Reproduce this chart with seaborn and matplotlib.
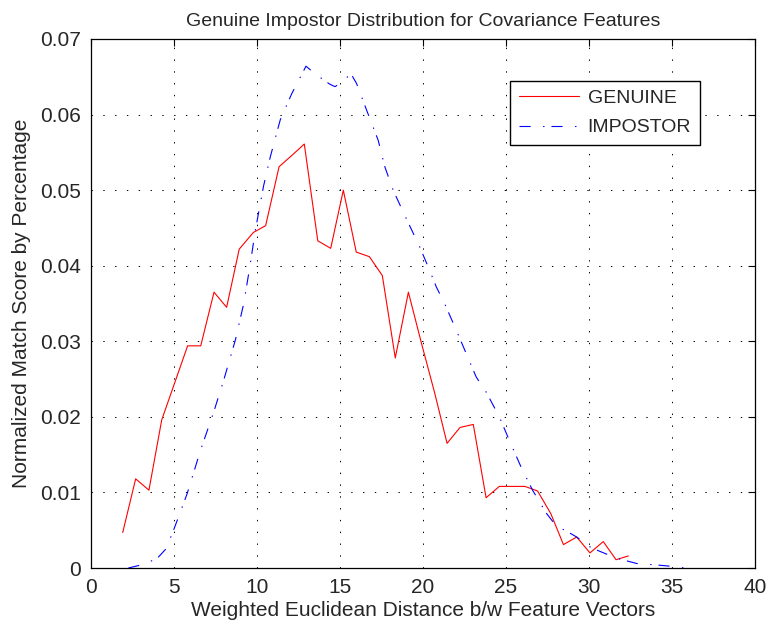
import matplotlib
matplotlib.use('Agg')
import matplotlib.pyplot as plt
import seaborn as sns

# Genuine distribution
genuine_x = [1.91, 2.69, 3.49, 4.26, 5.04, 5.82, 6.61, 7.41, 8.17, 8.93,
             9.78, 10.52, 11.33, 12.10, 12.85, 13.66, 14.44, 15.20, 15.98, 16.77,
             17.55, 18.33, 19.12, 19.90, 20.70, 21.45, 22.23, 23.03, 23.80, 24.60,
             25.37, 26.14, 26.90, 27.70, 28.46, 29.26, 30.06, 30.86, 31.63, 32.37]
genuine_y = [0.0047, 0.0118, 0.0103, 0.0196, 0.0245, 0.0294, 0.0294, 0.0365, 0.0345, 0.0422,
             0.0444, 0.0453, 0.0531, 0.0546, 0.0561, 0.0433, 0.0423, 0.0500, 0.0418, 0.0412,
             0.0387, 0.0278, 0.0365, 0.0298, 0.0232, 0.0165, 0.0186, 0.0190, 0.0093, 0.0108,
             0.0108, 0.0108, 0.0102, 0.0072, 0.0031, 0.0041, 0.0020, 0.0035, 0.0011, 0.0016]

# Impostor distribution
impostor_x = [2.25, 3.0, 3.5, 4.0, 4.5, 4.9, 5.4, 5.8, 6.6, 7.4,
              8.0, 8.7, 9.2, 9.6, 9.9, 10.4, 10.8, 11.4, 12.1, 12.95,
              13.5, 14.0, 14.4, 14.7, 15.0, 15.66, 16.0, 16.6, 17.3, 17.7,
              18.2, 19.0, 19.8, 20.4, 20.8, 21.3, 22.0, 22.6, 23.2, 23.8,
              24.6, 25.2, 25.9, 26.6, 27.45, 28.05, 28.55, 29.26, 30.06, 30.66,
              31.67, 32.87, 34.1, 35.1, 35.8]
impostor_y = [0.0, 0.0004, 0.0008, 0.0013, 0.0025, 0.0046, 0.0075, 0.0099, 0.0156, 0.0207,
              0.0249, 0.0302, 0.0350, 0.0403, 0.0447, 0.0506, 0.0544, 0.0593, 0.0628, 0.0664,
              0.0654, 0.0646, 0.0640, 0.0637, 0.0641, 0.0654, 0.0641, 0.0606, 0.0566, 0.0531,
              0.0500, 0.0462, 0.0425, 0.0394, 0.0372, 0.0350, 0.0315, 0.0284, 0.0253, 0.0233,
              0.0200, 0.0169, 0.0134, 0.0103, 0.0072, 0.0055, 0.0050, 0.0041, 0.0028, 0.0022,
              0.0013, 0.0006, 0.0004, 0.0002, 0.0]

xticks = [0, 5, 10, 15, 20, 25, 30, 35, 40]
yticks = [0, 0.01, 0.02, 0.03, 0.04, 0.05, 0.06, 0.07]

sns.set_style('white')
plt.rcParams['font.family'] = ['Liberation Sans', 'DejaVu Sans']
plt.rcParams['lines.scale_dashes'] = False

fig = plt.figure(figsize=(7.7, 6.24), dpi=100)
ax = fig.add_axes([0.1182, 0.0897, 0.8623, 0.8478])

dashdot = (0, (8, 9, 1, 5))
sns.lineplot(x=genuine_x, y=genuine_y, ax=ax, color='red', linewidth=0.8,
             label='GENUINE', sort=False, estimator=None)
sns.lineplot(x=impostor_x, y=impostor_y, ax=ax, color='blue', linewidth=0.8,
             label='IMPOSTOR', sort=False, estimator=None)
ax.lines[1].set_linestyle(dashdot)

ax.set_xlim(0, 40)
ax.set_ylim(0, 0.07)
ax.set_xticks(xticks)
ax.set_yticks(yticks)
ax.set_xticklabels([str(t) for t in xticks])
ax.set_yticklabels(['0' if t == 0 else '%.2f' % t for t in yticks])
ax.tick_params(direction='in', top=True, right=True, length=5, width=0.8,
               labelsize=15, color='black', pad=7)
ax.grid(True, color='black', linestyle=(0, (1, 7.5)), linewidth=0.7)
for s in ax.spines.values():
    s.set_color('black')
    s.set_linewidth(0.9)

ax.set_title('Genuine Impostor Distribution for Covariance Features', fontsize=14, pad=9)
ax.set_xlabel('Weighted Euclidean Distance b/w Feature Vectors', fontsize=15, labelpad=3)
ax.set_ylabel('Normalized Match Score by Percentage', fontsize=15, labelpad=7)

leg = ax.legend(loc='upper right', bbox_to_anchor=(0.917, 0.921), fontsize=14,
                frameon=True, fancybox=False, edgecolor='black', framealpha=1,
                handlelength=3.1, handletextpad=0.45, labelspacing=0.6, borderpad=0.45,
                borderaxespad=0)
leg.get_frame().set_linewidth(1.0)
leg.get_lines()[1].set_linestyle(dashdot)

fig.savefig('out.png', dpi=100)
